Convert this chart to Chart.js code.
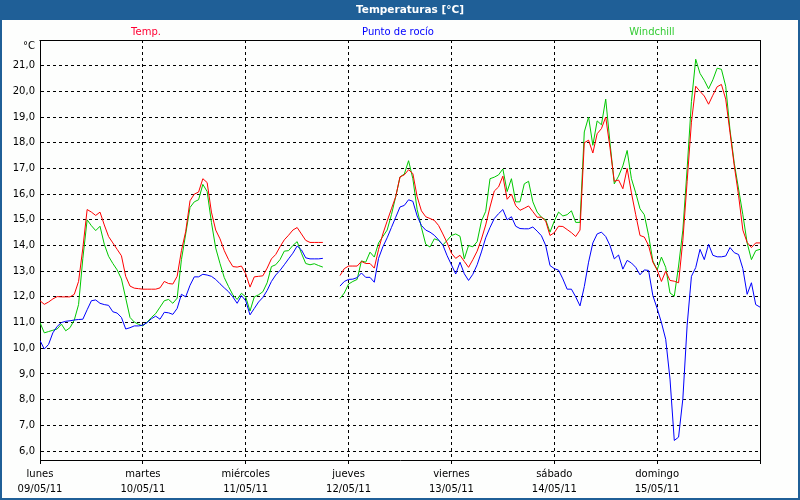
<!DOCTYPE html>
<html>
<head>
<meta charset="utf-8">
<script src="https://cdn.jsdelivr.net/npm/chart.js@4.4.0/dist/chart.umd.min.js"></script>
<style>
html,body{margin:0;padding:0;background:#fdfefd;}
canvas{display:block;}
</style>
</head>
<body>
<canvas id="c" width="800" height="500"></canvas>
<script>
const chartTitle = 'Temperaturas [°C]';
const unitLabel = '°C';
const dayNames = ['lunes','martes','miércoles','jueves','viernes','sábado','domingo'];
const dayDates = ['09/05/11','10/05/11','11/05/11','12/05/11','13/05/11','14/05/11','15/05/11'];
// hours since Monday 09/05/11 00:00
const hours = Array.from({length:169}, (_, i) => i);

const temp = [
11.85,11.71,11.8,11.92,12.01,12.0,12.0,12.0,12.1,12.6,
13.9,15.4,15.3,15.17,15.3,14.8,14.35,14.1,13.85,13.6,
12.8,12.42,12.34,12.32,12.3,12.3,12.3,12.3,12.35,12.6,
12.52,12.5,12.8,13.8,14.55,15.74,16.0,16.08,16.6,16.45,
15.3,14.6,14.26,13.8,13.45,13.18,13.16,13.2,12.9,12.38,
12.78,12.8,12.82,13.12,13.48,13.65,13.95,14.22,14.4,14.6,
14.7,14.45,14.2,14.12,14.12,14.12,14.12,null,null,null,
12.83,13.1,13.2,13.2,13.2,13.38,13.3,13.3,13.12,13.85,
14.45,14.95,15.43,15.9,16.67,16.75,16.95,16.8,15.9,15.35,
15.12,15.05,14.98,14.78,14.45,14.1,13.7,13.5,13.62,13.38,
13.15,13.45,13.78,14.25,14.8,15.5,16.12,16.28,16.7,15.8,
16.0,15.55,15.37,15.45,15.54,15.32,15.1,15.1,14.95,14.39,
14.5,14.75,14.74,14.62,14.5,14.35,14.6,18.0,18.1,17.6,
18.35,18.55,19.0,17.8,16.5,16.55,16.21,17.0,16.05,15.2,
14.39,14.33,14.0,13.35,13.05,12.6,13.0,12.64,12.61,12.55,
14.2,16.5,18.8,20.2,20.0,19.82,19.5,19.85,20.18,20.27,
19.7,18.4,17.1,15.95,14.6,14.12,13.92,14.1,14.1
];

const dewPoint = [
10.3,9.97,10.15,10.6,10.85,11.0,11.05,11.07,11.1,11.12,
11.13,11.5,11.85,11.88,11.75,11.7,11.67,11.42,11.37,11.2,
10.75,10.8,10.87,10.87,10.9,11.0,11.15,11.25,11.13,11.4,
11.38,11.32,11.55,12.1,12.0,12.45,12.78,12.78,12.88,12.85,
12.8,12.68,12.51,12.35,12.2,12.0,11.75,12.05,11.85,11.3,
11.55,11.8,11.98,12.25,12.6,12.85,13.03,13.25,13.48,13.7,
13.98,13.83,13.52,13.48,13.48,13.48,13.5,null,null,null,
12.42,12.6,12.68,12.69,12.75,12.93,12.76,12.76,12.57,13.5,
13.95,14.3,14.7,15.1,15.5,15.56,15.78,15.72,15.15,14.78,
14.6,14.52,14.4,14.22,14.02,13.6,13.25,12.89,13.35,12.9,
12.64,12.88,13.25,13.75,14.3,14.7,15.05,15.24,15.4,15.0,
15.12,14.75,14.66,14.65,14.65,14.72,14.56,14.38,14.0,13.22,
13.1,13.04,12.7,12.3,12.3,12.0,11.65,12.4,13.35,14.1,
14.45,14.52,14.35,14.0,13.48,13.63,13.08,13.42,13.32,13.15,
12.86,13.05,13.03,12.05,11.55,11.0,10.35,8.8,6.41,6.54,
8.03,10.9,12.8,13.14,13.85,13.45,14.05,13.62,13.56,13.56,
13.59,13.92,13.72,13.65,13.1,12.1,12.55,11.7,11.6
];

const windchill = [
11.0,10.6,10.65,10.7,10.75,10.94,10.68,10.8,11.1,11.7,
13.5,15.0,14.77,14.58,14.75,14.05,13.58,13.3,13.05,12.7,
11.95,11.2,11.02,10.93,10.87,11.02,11.2,11.35,11.6,11.85,
11.9,11.75,11.95,13.45,14.45,15.48,15.7,15.78,16.38,16.1,
14.9,13.9,13.3,12.75,12.4,12.08,11.9,12.14,12.0,11.45,
12.0,12.08,12.2,12.55,13.18,13.25,13.45,13.78,13.8,14.0,
14.15,13.7,13.3,13.25,13.29,13.22,13.16,null,null,null,
11.94,12.15,12.5,12.6,12.68,13.4,13.35,13.74,13.55,14.1,
14.35,14.6,15.2,15.9,16.67,16.78,17.3,16.6,15.4,14.7,
14.05,13.94,14.26,14.2,14.02,14.2,14.39,14.45,14.36,13.48,
14.0,13.95,14.15,14.95,15.33,16.6,16.66,16.75,16.98,16.1,
16.6,15.7,15.7,16.4,16.5,15.7,15.3,15.1,15.0,14.52,
14.95,15.3,15.15,15.2,15.35,14.9,14.9,18.42,19.0,17.9,
18.85,18.7,19.7,18.0,16.4,16.7,17.1,17.7,16.6,16.05,
15.43,15.2,14.4,13.4,13.05,13.55,13.15,12.15,12.03,13.2,
14.6,17.0,19.6,21.25,20.7,20.43,20.1,20.45,20.9,20.86,
20.2,18.5,17.2,16.2,15.2,14.1,13.45,13.8,13.85
];

const seriesNames = ['Temp.', 'Punto de rocío', 'Windchill'];
const seriesColors = ['#ff0000', '#0000ff', '#00c800'];
const legendColors = ['#ff0033', '#0000ff', '#33cc33'];

const BAR = '#1f5f97';
const FONT = '"DejaVu Sans", sans-serif';

const framePlugin = {
  id: 'frame',
  beforeDraw(chart) {
    const c = chart.ctx;
    const W = chart.width, H = chart.height;
    c.save();
    c.fillStyle = '#fdfefd';
    c.fillRect(0, 0, W, H);
    c.fillStyle = BAR;
    c.fillRect(0, 0, W, 20);
    c.fillRect(0, 0, 2, H);
    c.fillRect(W - 2, 0, 2, H);
    c.fillRect(0, H - 2, W, 2);
    c.fillStyle = '#ffffff';
    c.font = 'bold 10.5px ' + FONT;
    c.textAlign = 'center';
    c.textBaseline = 'middle';
    c.fillText(chartTitle, 410, 10.5);
    // legend labels
    const legendX = [146, 398, 652];
    c.font = '10px ' + FONT;
    chart.data.datasets.forEach((ds, i) => {
      c.fillStyle = legendColors[i];
      c.fillText(ds.label, legendX[i], 32);
    });
    c.restore();
  },
  afterDraw(chart) {
    const c = chart.ctx;
    const a = chart.chartArea;
    c.save();
    c.strokeStyle = '#000000';
    c.lineWidth = 1;
    c.setLineDash([]);
    c.beginPath();
    c.moveTo(Math.round(a.left) - 0.5, Math.round(a.top) + 0.5);
    c.lineTo(Math.round(a.right) + 0.5, Math.round(a.top) + 0.5);
    c.lineTo(Math.round(a.right) + 0.5, Math.round(a.bottom) + 0.5);
    c.stroke();
    c.fillStyle = '#000000';
    c.font = '10px ' + FONT;
    c.textAlign = 'right';
    c.textBaseline = 'middle';
    c.fillText(unitLabel, a.left - 5, a.top + 6);
    c.restore();
  }
};

new Chart(document.getElementById('c'), {
  type: 'line',
  data: {
    labels: hours,
    datasets: [temp, dewPoint, windchill].map((d, i) => ({
      label: seriesNames[i],
      data: d,
      borderColor: seriesColors[i],
      backgroundColor: seriesColors[i],
      borderWidth: 1,
      pointRadius: 0,
      tension: 0,
      spanGaps: false,
      fill: false
    }))
  },
  options: {
    responsive: false,
    animation: false,
    devicePixelRatio: 1,
    layout: { padding: { top: 40, left: 0, right: 40, bottom: 0 } },
    plugins: {
      legend: { display: false },
      title: { display: false },
      tooltip: { enabled: false }
    },
    scales: {
      x: {
        type: 'linear',
        min: 0,
        max: 168,
        afterFit(scale) { scale.height = 40; },
        afterBuildTicks(scale) {
          scale.ticks = [0,24,48,72,96,120,144,168].map(v => ({ value: v }));
        },
        ticks: {
          autoSkip: false,
          maxRotation: 0,
          padding: 3,
          color: '#000000',
          font: { family: FONT, size: 10, lineHeight: 1.5 },
          callback(v) {
            const i = Math.round(v / 24);
            return i < 7 ? [dayNames[i], dayDates[i]] : '';
          }
        },
        grid: {
          color: '#000000',
          lineWidth: 1,
          drawTicks: true,
          tickLength: 4,
          tickColor: '#000000',
          tickBorderDash: [],
          tickWidth: 1
        },
        border: { display: true, color: '#000000', width: 1, dash: [3, 3] }
      },
      y: {
        type: 'linear',
        min: 5.65,
        max: 22,
        afterFit(scale) { scale.width = 40; },
        ticks: {
          stepSize: 1,
          includeBounds: false,
          padding: 5,
          color: '#000000',
          font: { family: FONT, size: 10 },
          callback(v) {
            if (v >= 22) return '';
            return v.toFixed(1).replace('.', ',');
          }
        },
        grid: {
          color: '#000000',
          lineWidth: 1,
          drawTicks: false
        },
        border: { display: true, color: '#000000', width: 1, dash: [3, 3] }
      }
    }
  },
  plugins: [framePlugin]
});
</script>
</body>
</html>
